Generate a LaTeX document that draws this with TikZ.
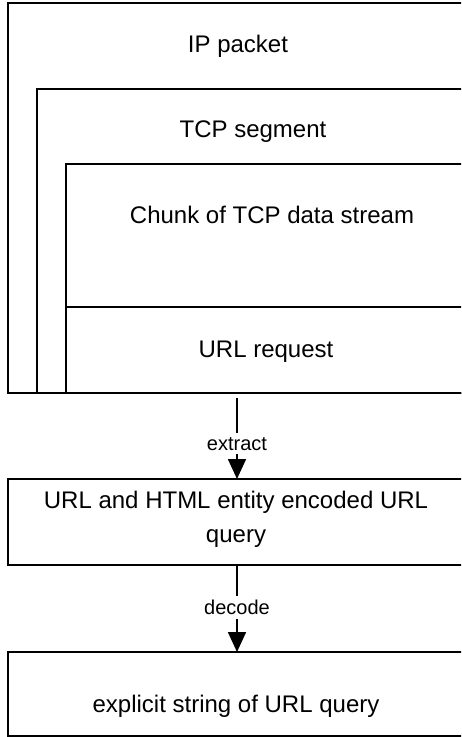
\documentclass[tikz,border=0pt]{standalone}
\usepackage{fontspec}
\setmainfont{Liberation Sans}
\usetikzlibrary{arrows.meta}
\begin{document}
\begin{tikzpicture}[x=1pt,y=-1pt,
  frame/.style={draw=black, line width=1.6pt},
  lbl/.style={font=\fontsize{24}{34}\selectfont, inner sep=0pt},
  edgelbl/.style={font=\fontsize{20}{24}\selectfont, fill=white, inner xsep=2pt, inner ysep=4pt},
  arr/.style={draw=black, line width=1.6pt, -{Triangle[length=20pt,width=18pt]}}]
\useasboundingbox (0,0) rectangle (461,737);
\clip (0,0) rectangle (461,737);
% nested frames (open to the right)
\draw[frame] (8,3) rectangle (472,393);
\draw[frame] (37,89) rectangle (472,393);
\draw[frame] (66,164) rectangle (472,393);
\draw[frame] (66,307) -- (472,307);
\node[lbl, anchor=base] (ip) at (238,52) {IP packet};
\node[lbl, anchor=base] (tcp) at (253,137) {TCP segment};
\node[lbl, anchor=base] (chunk) at (272,223) {Chunk of TCP data stream};
\node[lbl, anchor=base] (url) at (266,357) {URL request};
% lower boxes
\node[frame, anchor=north west, outer sep=0pt, minimum width=464pt, minimum height=86pt] (enc) at (8,479) {};
\node[lbl, align=center] (enctext) at (236,519) {URL and HTML entity encoded URL\\query};
\node[frame, anchor=north west, outer sep=0pt, minimum width=464pt, minimum height=84pt] (expl) at (8,652) {};
\node[lbl, anchor=base] (expltext) at (236,712) {explicit string of URL query};
% connectors
\coordinate (s1) at (237,398);
\coordinate (s2) at (237,565);
\draw[arr] (s1) -- node[edgelbl, pos=0.565] (ex) {extract} (s1 |- enc.north);
\draw[arr] (s2) -- node[edgelbl, pos=0.49] (de) {decode} (s2 |- expl.north);
\end{tikzpicture}
\end{document}
